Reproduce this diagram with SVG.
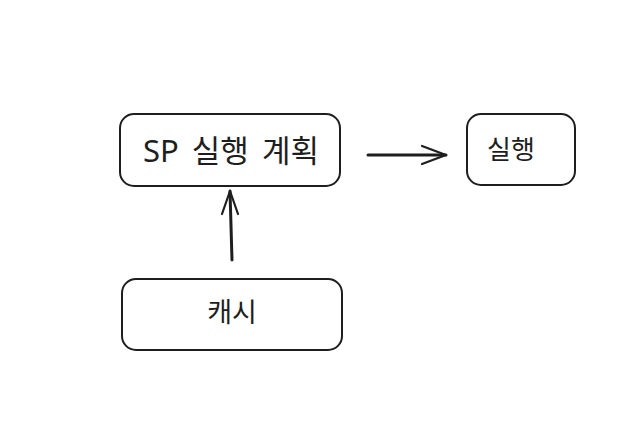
<svg xmlns="http://www.w3.org/2000/svg" width="639" height="422" viewBox="0 0 639 422">
<style>
.box{fill:#fff;stroke:#1e1e1e;stroke-width:2}
.lbl{font-family:"Noto Sans","Noto Sans CJK KR",sans-serif;fill:#1e1e1e;text-anchor:middle;dominant-baseline:central}
.conn{stroke:#1e1e1e;stroke-width:3;fill:none;stroke-linecap:round}
.head{stroke:#1e1e1e;stroke-width:2.2;fill:none;stroke-linecap:round;stroke-linejoin:round}
</style>
<rect width="639" height="422" fill="#fff"/>
<g id="plan">
<rect class="box" x="120" y="114" width="220" height="72" rx="14"/>
<text class="lbl" x="231" y="150" font-size="31" word-spacing="5">SP 실행 계획</text>
</g>
<g id="exec">
<rect class="box" x="467" y="114" width="108" height="71" rx="14"/>
<text class="lbl" x="511" y="149" font-size="26">실행</text>
</g>
<g id="cache">
<rect class="box" x="122" y="279" width="220" height="71" rx="14"/>
<text class="lbl" x="232" y="311" font-size="27">캐시</text>
</g>
<g id="connectors">
<path class="conn" d="M368 155 L446 155"/>
<path class="head" d="M422 146 L446 155 L422 164"/>
<path class="conn" d="M232 260 L230 191"/>
<path class="head" d="M222 214 L230 191 L238 214"/>
</g>
</svg>
